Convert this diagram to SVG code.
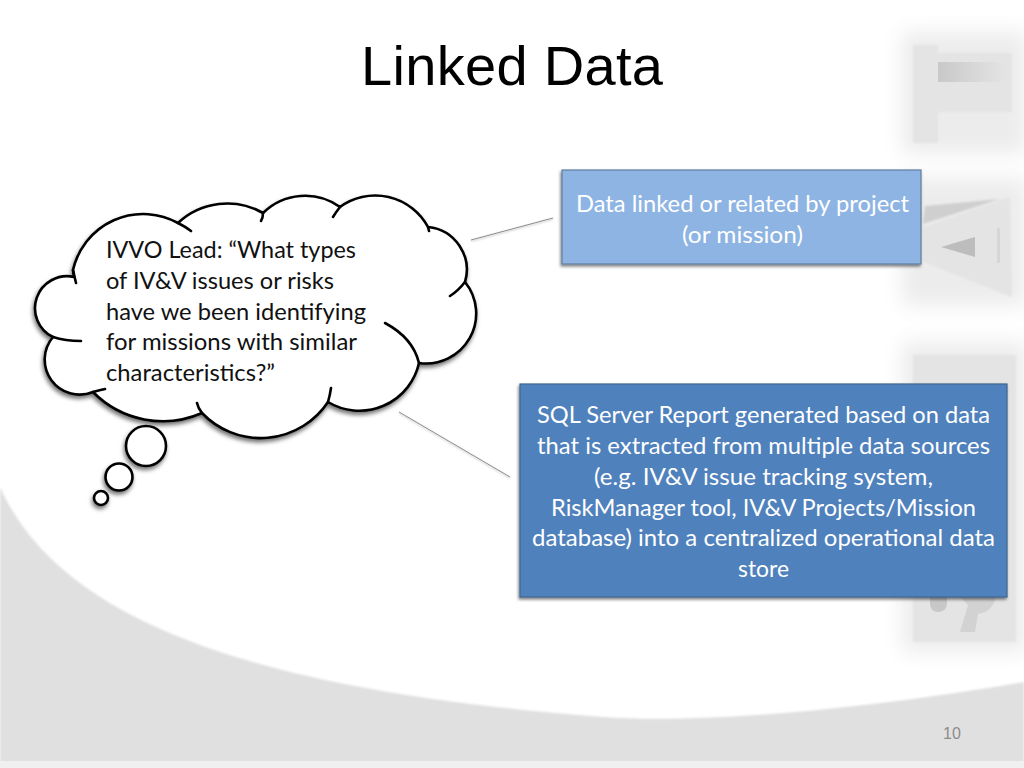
<svg xmlns="http://www.w3.org/2000/svg" width="1024" height="768" viewBox="0 0 1024 768">
<style>
.t{font-family:Lato,"Liberation Sans",sans-serif;font-size:24px}
.w{fill:#fff}.k{fill:#111}
.c{fill:#fff;stroke:#000;stroke-width:2.6;stroke-linecap:round}
.tick{fill:none;stroke:#000;stroke-width:2.6;stroke-linecap:round}
.lnk{fill:none;stroke:#8c8c8c;stroke-width:1}
.wm{fill:#e4e4e4}
</style>
<defs>
<filter id="sh" x="-10%" y="-10%" width="120%" height="125%"><feDropShadow dx="-1" dy="3" stdDeviation="2" flood-color="#000" flood-opacity=".55"/></filter>
<filter id="bs" x="-10%" y="-10%" width="120%" height="125%"><feDropShadow dx="-1" dy="2" stdDeviation="1.5" flood-color="#000" flood-opacity=".5"/></filter>
<filter id="ls" x="-10%" y="-30%" width="120%" height="160%"><feDropShadow dx="0" dy="1" stdDeviation="1" flood-color="#000" flood-opacity=".3"/></filter>
<filter id="b1" x="-10%" y="-10%" width="120%" height="120%"><feGaussianBlur stdDeviation="1"/></filter>
<filter id="b8" x="-40%" y="-40%" width="180%" height="180%"><feGaussianBlur stdDeviation="10"/></filter>
<linearGradient id="tb" x1="0" x2="1" y1="0" y2="0"><stop offset="0" stop-color="#c8c8c8"/><stop offset="1" stop-color="#e4e4e4"/></linearGradient>
</defs>
<rect width="1024" height="768" fill="#fff"/>
<g id="background">
<path d="M0 487C60 620 250 690 603 717C700 724 860 710 1024 682V768H0Z" fill="#e0e0e0" filter="url(#b1)"/>
<rect y="761" width="1024" height="7" fill="#f0f0f0"/>
<rect x="902" y="32" width="125" height="122" fill="#ececec" filter="url(#b8)"/>
<rect x="902" y="178" width="125" height="128" fill="#ececec" filter="url(#b8)"/>
<rect x="902" y="342" width="125" height="310" fill="#ececec" filter="url(#b8)"/>
<path class="wm" d="M913 45H938V53H1012V112H938V143H913Z" filter="url(#b1)"/>
<path d="M938 62H1005V82H938Z" fill="url(#tb)"/>
<path class="wm" d="M923 227L1010 197L1012 297L923 262Z" filter="url(#b1)"/>
<path d="M923 224L1000 199L925 206Z" fill="#cfcfcf" filter="url(#b1)"/>
<path d="M941 247L975 237V257Z" fill="#bdbdbd"/>
<path d="M997 228H1000V263H997Z" fill="#d6d6d6"/>
<path class="wm" d="M913 355H1016V642H913Z" filter="url(#b1)"/>
<path d="M930 597H947V604Q946 612 938 612Q931 612 930 604Z" fill="#c8c8c8"/>
<path d="M960 597H996Q992 612 978 614L975 632H960L968 605Z" fill="#d2d2d2"/>
</g>
<g id="connectors">
<path class="lnk" d="M471 240L553 218" filter="url(#ls)"/>
<path class="lnk" d="M399 412L510 477" filter="url(#ls)"/>
</g>
<text id="title" x="512" y="85" text-anchor="middle" font-family="'Liberation Sans',Arial,sans-serif" font-size="56" fill="#000" textLength="302">Linked Data</text>
<g id="cloud">
<g filter="url(#sh)">
<circle class="c" cx="146" cy="446" r="20"/>
<circle class="c" cx="119" cy="477" r="13.5"/>
<circle class="c" cx="101" cy="498" r="7"/>
<path class="c" d="M73 270A72 72 0 0 1 178 223A72 72 0 0 1 263 213A60 60 0 0 1 340 207A60 60 0 0 1 428 227A43 43 0 0 1 465 282A50 50 0 0 1 419 363A61 61 0 0 1 328 402A81 81 0 0 1 202 413A98 98 0 0 1 93 392A35 35 0 0 1 53 337A32 32 0 0 1 74 277Z"/>
</g>
<path class="tick" d="M178 223Q186 227 191 231M263 213Q263 218 261 221M340 207Q336 212 333 217M428 227L429 231M465 282Q458 291 450 296M419 363Q413 338 385 323M328 402Q330 395 331 388M202 413Q198 408 197 403M93 392Q100 390 105 389M53 337Q65 341 81 341M73 270L76 283"/>
<text class="t k"><tspan x="106" y="258" textLength="250" lengthAdjust="spacingAndGlyphs">IVVO Lead: “What types</tspan><tspan x="106" y="289" textLength="228" lengthAdjust="spacingAndGlyphs">of IV&amp;V issues or risks</tspan><tspan x="106" y="320" textLength="260" lengthAdjust="spacingAndGlyphs">have we been identifying</tspan><tspan x="106" y="350" textLength="251" lengthAdjust="spacingAndGlyphs">for missions with similar</tspan><tspan x="106" y="381" textLength="169" lengthAdjust="spacingAndGlyphs">characteristics?”</tspan></text>
</g>
<g id="box-project">
<rect x="562" y="170" width="359" height="94" fill="#8eb4e3" stroke="#5f7f9f" stroke-width="1.2" filter="url(#bs)"/>
<text class="t w"><tspan x="576" y="212" textLength="333" lengthAdjust="spacingAndGlyphs">Data linked or related by project</tspan><tspan x="682" y="243" textLength="121" lengthAdjust="spacingAndGlyphs">(or mission)</tspan></text>
</g>
<g id="box-report">
<rect x="520" y="384" width="487" height="213" fill="#4f81bd" stroke="#3e658f" stroke-width="1.2" filter="url(#bs)"/>
<text class="t w"><tspan x="537" y="423" textLength="453" lengthAdjust="spacingAndGlyphs">SQL Server Report generated based on data</tspan><tspan x="537" y="454" textLength="453" lengthAdjust="spacingAndGlyphs">that is extracted from multiple data sources</tspan><tspan x="594" y="485" textLength="339" lengthAdjust="spacingAndGlyphs">(e.g. IV&amp;V issue tracking system,</tspan><tspan x="551" y="516" textLength="425" lengthAdjust="spacingAndGlyphs">RiskManager tool, IV&amp;V Projects/Mission</tspan><tspan x="532" y="546" textLength="463" lengthAdjust="spacingAndGlyphs">database) into a centralized operational data</tspan><tspan x="738" y="577" textLength="51" lengthAdjust="spacingAndGlyphs">store</tspan></text>
</g>
<text id="page" x="952" y="739" text-anchor="middle" font-family="'Liberation Sans',Arial,sans-serif" font-size="16" fill="#8c8c8c">10</text>
</svg>
